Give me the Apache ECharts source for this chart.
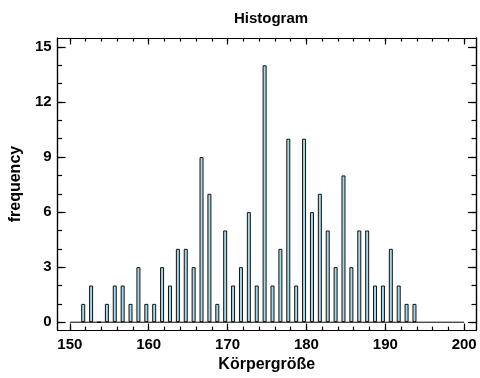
<!DOCTYPE html>
<html>
<head>
<meta charset="utf-8">
<script src="https://cdn.jsdelivr.net/npm/echarts@6/dist/echarts.min.js"></script>
<style>
html,body{margin:0;padding:0;background:#fff;}
#chart{width:480px;height:378px;}
</style>
</head>
<body>
<div id="chart"></div>
<script>
// ---- data ----
const binCenters = [151.7,152.7,153.7,154.7,155.7,156.7,157.7,158.7,159.7,160.7,
  161.7,162.7,163.7,164.7,165.7,166.7,167.7,168.7,169.7,170.7,
  171.7,172.7,173.7,174.7,175.7,176.7,177.7,178.7,179.7,180.7,
  181.7,182.7,183.7,184.7,185.7,186.7,187.7,188.7,189.7,190.7,
  191.7,192.7,193.7];
const frequency = [1,2,0,1,2,2,1,3,1,1,
  3,2,4,4,3,9,7,1,5,2,
  3,6,2,14,2,4,10,2,10,6,
  7,5,3,8,3,5,5,2,2,4,
  2,1,1];
const xMajorTicks = [150,160,170,180,190,200];
const xMinorTicks = [150,152,154,156,158,160,162,164,166,168,170,172,174,176,178,180,182,184,186,188,190,192,194,196,198,200];
const yMajorTicks = [0,3,6,9,12,15];
const yMinorTicks = [0,1,2,3,4,5,6,7,8,9,10,11,12,13,14,15];
const titleText = 'Histogram';
const xName = 'Körpergröße';
const yName = 'frequency';

const X_MIN = 148.45, X_MAX = 201.5;
const Y_MIN = -0.43, Y_MAX = 15.49;
const FONT = 'Liberation Sans';
const black = '#000';

function xAx(pos, ticks, len, labels) {
  return {
    type: 'value', position: pos, min: X_MIN, max: X_MAX, gridIndex: 0,
    axisLine: { show: true, onZero: false, lineStyle: { color: black, width: 1.2 } },
    axisTick: { show: true, inside: true, length: len, customValues: ticks, lineStyle: { color: black, width: 1.2 } },
    axisLabel: labels ? { show: true, customValues: xMajorTicks, margin: 7, color: black, fontFamily: FONT, fontWeight: 'bold', fontSize: 15 } : { show: false },
    splitLine: { show: false }
  };
}
function yAx(pos, ticks, len, labels) {
  return {
    type: 'value', position: pos, min: Y_MIN, max: Y_MAX, gridIndex: 0,
    axisLine: { show: true, onZero: false, lineStyle: { color: black, width: 1.2 } },
    axisTick: { show: true, inside: true, length: len, customValues: ticks, lineStyle: { color: black, width: 1.2 } },
    axisLabel: labels ? { show: true, customValues: yMajorTicks, margin: 6, color: black, fontFamily: FONT, fontWeight: 'bold', fontSize: 15 } : { show: false },
    splitLine: { show: false }
  };
}

const xMain = xAx('bottom', xMajorTicks, 6.5, true);
xMain.name = xName;
xMain.nameLocation = 'middle';
xMain.nameGap = 24;
xMain.nameTextStyle = { color: black, fontFamily: FONT, fontWeight: 'bold', fontSize: 16 };

const yMain = yAx('left', yMajorTicks, 8, true);
yMain.name = yName;
yMain.nameLocation = 'middle';
yMain.nameRotate = 90;
yMain.nameGap = 30;
yMain.nameTextStyle = { color: black, fontFamily: FONT, fontWeight: 'bold', fontSize: 16 };

const chart = echarts.init(document.getElementById('chart'), null, { renderer: 'canvas' });
chart.setOption({
  animation: false,
  backgroundColor: '#fff',
  title: {
    text: titleText, left: 266, top: 6, textAlign: 'center',
    textStyle: { color: black, fontFamily: FONT, fontWeight: 'bold', fontSize: 15 }
  },
  grid: { left: 54, top: 38, width: 422, height: 294, containLabel: false },
  xAxis: [
    xMain,
    xAx('bottom', xMinorTicks, 3.5, false),
    xAx('top', xMajorTicks, 6.5, false),
    xAx('top', xMinorTicks, 3.5, false)
  ],
  yAxis: [
    yMain,
    yAx('left', yMinorTicks, 4.5, false),
    yAx('right', yMajorTicks, 8, false),
    yAx('right', yMinorTicks, 4.5, false)
  ],
  series: [
    {
      type: 'line', xAxisIndex: 0, yAxisIndex: 0,
      data: [[xMajorTicks[0], 0], [xMajorTicks[xMajorTicks.length - 1], 0]],
      symbol: 'none', silent: true,
      lineStyle: { color: black, width: 1 }
    },
    {
      type: 'bar', xAxisIndex: 0, yAxisIndex: 0,
      data: binCenters.map((x, i) => [x, frequency[i]]),
      barWidth: 4,
      itemStyle: { color: '#a8d8e8', borderColor: '#111', borderWidth: 1 }
    }
  ]
});
</script>
</body>
</html>
